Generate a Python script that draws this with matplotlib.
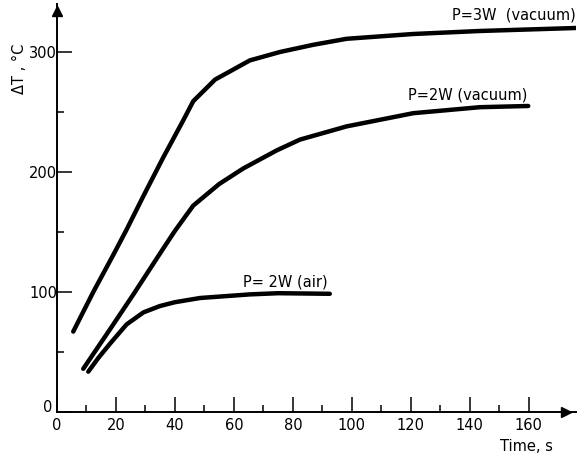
import matplotlib.pyplot as plt
from matplotlib.transforms import ScaledTranslation

# --- Data ---
time_3w_vac = [5.5, 12.3, 19.1, 23.6, 29.3, 36, 42.8, 46.2, 53.6, 65.4, 75.6, 86.9, 98.2, 120.8, 143.4, 176]
dT_3w_vac = [67, 100, 131, 152, 180, 212, 243, 259, 277, 293, 300, 306, 311, 315, 317.5, 320]

time_2w_vac = [8.9, 18, 25.9, 34.9, 40, 46.2, 55, 63.2, 74.5, 82.4, 98.2, 120.8, 143.4, 159.8]
dT_2w_vac = [36, 69, 98, 132, 151, 172, 190, 203, 218, 227, 238, 249, 254, 255]

time_2w_air = [10.6, 14, 18, 23.6, 29.3, 34.9, 40, 48.5, 65.4, 75, 92.5]
dT_2w_air = [33.6, 45, 57, 73, 83, 88.3, 91.5, 95, 98, 99, 98.5]

x_major = [0, 20, 40, 60, 80, 100, 120, 140, 160]
x_minor = [10, 30, 50, 70, 90, 110, 130, 150]
y_major = [0, 100, 200, 300]
y_minor = [50, 150, 250]

fig = plt.figure(figsize=(5.77, 4.53), dpi=100)
ax = fig.add_axes([0.0988, 0.0905, 0.8995, 0.9007])

curve_kw = dict(color='black', lw=3.2, solid_capstyle='round', solid_joinstyle='round')
ax.plot(time_3w_vac, dT_3w_vac, **curve_kw)
ax.plot(time_2w_vac, dT_2w_vac, **curve_kw)
ax.plot(time_2w_air, dT_2w_air, **curve_kw)

ax.set_xlim(0, 176)
ax.set_ylim(0, 340)

for side in ['top', 'right']:
    ax.spines[side].set_visible(False)
for side in ['left', 'bottom']:
    ax.spines[side].set_linewidth(1.4)

ax.set_xticks(x_major)
ax.set_xticks(x_minor, minor=True)
ax.set_yticks(y_major)
ax.set_yticks(y_minor, minor=True)
ax.tick_params(which='major', direction='in', length=11, width=1.1, labelsize=10.5)
ax.tick_params(which='minor', direction='in', length=5, width=1.1)
ax.tick_params(axis='x', pad=4)
ax.tick_params(axis='y', pad=0)

# nudge the y-axis "0" up-left so it sits beside the x-axis "0"
y0_label = ax.get_yticklabels()[0]
y0_label.set_transform(y0_label.get_transform() + ScaledTranslation(-3 / 72, 4 / 72, fig.dpi_scale_trans))

# axis arrows
ax.plot(172.5, 0, marker='>', color='black', ms=7, clip_on=False)
ax.plot(0, 334, marker='^', color='black', ms=7, clip_on=False)

ax.text(134, 331, 'P=3W  (vacuum)', fontsize=10.5, va='center')
ax.text(119, 264, 'P=2W (vacuum)', fontsize=10.5, va='center')
ax.text(63, 108, 'P= 2W (air)', fontsize=10.5, va='center')
ax.text(168, -29, 'Time, s', fontsize=10.5, ha='right', va='center')

fig.text(0.033, 0.848, 'ΔT , °C', rotation=90, fontsize=10.5, ha='center', va='center')

fig.savefig('out.png', dpi=100)
